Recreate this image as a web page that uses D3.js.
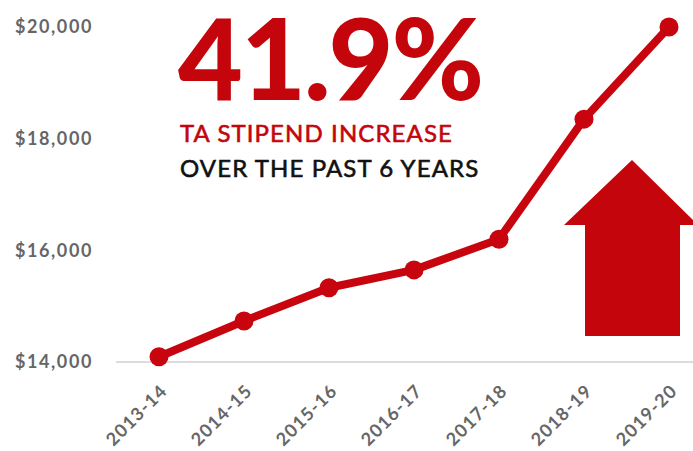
<html>
<head>
<script src="https://d3js.org/d3.v7.min.js" charset="utf-8"></script>
<style>
  body { margin: 0; background: #fff; }
  text { font-family: Lato, "Open Sans", sans-serif; }
</style>
</head>
<body>
<script>
  const years = ['2013-14','2014-15','2015-16','2016-17','2017-18','2018-19','2019-20'];
  const stipend = [14094, 14735, 15330, 15650, 16200, 18350, 20000];
  const yTicks = [14000, 16000, 18000, 20000];

  const w = 693, h = 451;
  const red = '#c8050f';

  const svg = d3.select('body').append('svg')
      .attr('width', w)
      .attr('height', h);

  const x = d3.scalePoint().domain(years).range([159, 669]);
  const y = d3.scaleLinear().domain([14000, 20000]).range([362, 27]);

  // baseline
  svg.append('line')
      .attr('x1', 116).attr('x2', w)
      .attr('y1', y(14000)).attr('y2', y(14000))
      .attr('stroke', '#dcdcdc').attr('stroke-width', 2);

  // y axis labels
  const yAxis = d3.axisLeft(y).tickValues(yTicks).tickSize(0).tickPadding(0)
      .tickFormat(d => '$' + d3.format(',')(d));
  const gy = svg.append('g').attr('transform', 'translate(93,0)').call(yAxis);
  gy.select('.domain').remove();
  gy.selectAll('text')
      .attr('fill', '#666').attr('font-size', 18).attr('font-weight', 700)
      .attr('letter-spacing', 1.6);

  // x axis labels
  const xAxis = d3.axisBottom(x).tickSize(0).tickPadding(0);
  const gx = svg.append('g').attr('transform', 'translate(0,' + 383 + ')').call(xAxis);
  gx.select('.domain').remove();
  gx.selectAll('text')
      .attr('fill', '#666').attr('font-size', 18).attr('font-weight', 700)
      .attr('letter-spacing', 1.2)
      .attr('text-anchor', 'end')
      .attr('dy', '0.7em')
      .attr('transform', 'rotate(-45)');

  // arrow
  const arrowPts = [[632,160],[698,225],[680,225],[680,336],[585,336],[585,225],[564,225]];
  svg.append('path')
      .attr('d', d3.line()(arrowPts) + 'Z')
      .attr('fill', '#c4050c');

  // line + dots
  const line = d3.line().x((d, i) => x(years[i])).y(d => y(d));
  svg.append('path')
      .datum(stipend)
      .attr('d', line)
      .attr('fill', 'none')
      .attr('stroke', red)
      .attr('stroke-width', 8)
      .attr('stroke-linejoin', 'round');

  svg.selectAll('circle')
      .data(stipend)
      .enter()
      .append('circle')
      .attr('cx', (d, i) => x(years[i]))
      .attr('cy', d => y(d))
      .attr('r', 9.5)
      .attr('fill', red);

  // headline
  svg.append('text')
      .attr('x', 178).attr('y', 100)
      .attr('fill', '#c4050c')
      .attr('font-size', 112).attr('font-weight', 900)
      .attr('letter-spacing', -2)
      .text('41.9%');

  svg.append('text')
      .attr('x', 180).attr('y', 142)
      .attr('fill', '#c4050c').attr('stroke', '#c4050c').attr('stroke-width', 0.6)
      .attr('font-size', 24).attr('font-weight', 400)
      .attr('letter-spacing', 1.1)
      .text('TA STIPEND INCREASE');

  svg.append('text')
      .attr('x', 180).attr('y', 177)
      .attr('fill', '#111').attr('stroke', '#111').attr('stroke-width', 0.6)
      .attr('font-size', 24).attr('font-weight', 400)
      .attr('letter-spacing', 1.1)
      .text('OVER THE PAST 6 YEARS');
</script>
</body>
</html>
